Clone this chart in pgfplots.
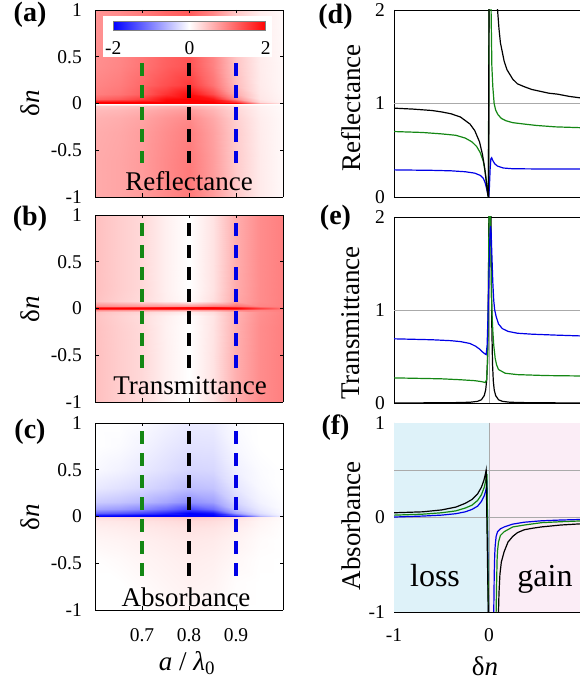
\documentclass[border=0pt]{standalone}
\usepackage{fontspec}
\setmainfont{Liberation Serif}
\usepackage{pgfplots}
\pgfplotsset{compat=1.18}
\definecolor{mygreen}{RGB}{20,135,20}
\definecolor{myblue}{RGB}{0,0,230}
\definecolor{losscol}{RGB}{222,242,249}
\definecolor{gaincol}{RGB}{251,237,246}
\definecolor{gridgray}{RGB}{170,170,170}
\pgfplotsset{colormap={bwr}{rgb255=(0,0,255) rgb255=(255,255,255) rgb255=(255,0,0)}}
\newcommand{\tk}{\fontsize{19.5}{20}\selectfont}
\newcommand{\lb}{\fontsize{27}{28}\selectfont}
\newcommand{\pl}{\fontsize{28}{29}\selectfont\bfseries}
\pgfplotsset{
 myax/.style={scale only axis, anchor=south west, tick align=inside, major tick length=3.5pt,
   tick style={black,line width=0.6pt}, axis line style={black,line width=0.8pt},
   /pgf/number format/assume math mode=true, tick label style={font=\tk}, no markers},
 heat/.style={myax, view={0}{90}, width=188pt, height=187pt, xmin=0.6,xmax=1,ymin=-1,ymax=1,
   xtick={0.7,0.8,0.9}, ytick={-1,-0.5,0,0.5,1}, yticklabel style={inner sep=0pt,xshift=-13pt},
   colormap name=bwr, point meta min=-2, point meta max=2},
 line/.style={myax, width=190pt, xmin=-1,xmax=1, xtick={-1,0,1}, yticklabel style={inner sep=0pt,xshift=-9pt}},
 dsh/.style={line width=3.3pt, dash pattern=on 12.7pt off 9.3pt},
 cur/.style={line width=1.2pt},
}
\begin{document}
\begin{tikzpicture}
\path[use as bounding box] (0,0) rectangle (579pt,687pt);
% (a) Reflectance
\begin{axis}[heat, at={(95pt,490pt)}, xticklabels={}]
\addplot3[surf, shader=interp, mesh/cols=9] table[row sep=\\]{
x y z\\
0.6 -1 0.66\\ 0.65 -1 0.70\\ 0.7 -1 0.78\\ 0.75 -1 0.92\\ 0.8 -1 1.05\\ 0.85 -1 0.78\\ 0.9 -1 0.42\\ 0.95 -1 0.16\\ 1 -1 0.05\\
0.6 -0.6 0.66\\ 0.65 -0.6 0.70\\ 0.7 -0.6 0.78\\ 0.75 -0.6 0.92\\ 0.8 -0.6 1.04\\ 0.85 -0.6 0.77\\ 0.9 -0.6 0.41\\ 0.95 -0.6 0.16\\ 1 -0.6 0.05\\
0.6 -0.3 0.64\\ 0.65 -0.3 0.68\\ 0.7 -0.3 0.76\\ 0.75 -0.3 0.89\\ 0.8 -0.3 1.0\\ 0.85 -0.3 0.74\\ 0.9 -0.3 0.40\\ 0.95 -0.3 0.15\\ 1 -0.3 0.05\\
0.6 -0.15 0.6\\ 0.65 -0.15 0.64\\ 0.7 -0.15 0.71\\ 0.75 -0.15 0.83\\ 0.8 -0.15 0.92\\ 0.85 -0.15 0.68\\ 0.9 -0.15 0.37\\ 0.95 -0.15 0.14\\ 1 -0.15 0.05\\
0.6 -0.07 0.53\\ 0.65 -0.07 0.56\\ 0.7 -0.07 0.62\\ 0.75 -0.07 0.72\\ 0.8 -0.07 0.78\\ 0.85 -0.07 0.58\\ 0.9 -0.07 0.32\\ 0.95 -0.07 0.12\\ 1 -0.07 0.04\\
0.6 -0.03 0.42\\ 0.65 -0.03 0.44\\ 0.7 -0.03 0.48\\ 0.75 -0.03 0.55\\ 0.8 -0.03 0.58\\ 0.85 -0.03 0.44\\ 0.9 -0.03 0.25\\ 0.95 -0.03 0.1\\ 1 -0.03 0.04\\
0.6 -0.012 0.2\\ 0.65 -0.012 0.21\\ 0.7 -0.012 0.22\\ 0.75 -0.012 0.25\\ 0.8 -0.012 0.26\\ 0.85 -0.012 0.2\\ 0.9 -0.012 0.12\\ 0.95 -0.012 0.06\\ 1 -0.012 0.03\\
0.6 -0.004 0\\ 0.65 -0.004 0\\ 0.7 -0.004 0\\ 0.75 -0.004 0\\ 0.8 -0.004 0\\ 0.85 -0.004 0\\ 0.9 -0.004 0\\ 0.95 -0.004 0\\ 1 -0.004 0\\
0.6 0.003 2\\ 0.65 0.003 2\\ 0.7 0.003 2\\ 0.75 0.003 2\\ 0.8 0.003 2\\ 0.85 0.003 2\\ 0.9 0.003 2\\ 0.95 0.003 0.6\\ 1 0.003 0.2\\
0.6 0.02 2\\ 0.65 0.02 2\\ 0.7 0.02 2\\ 0.75 0.02 2\\ 0.8 0.02 2\\ 0.85 0.02 2\\ 0.9 0.02 1.6\\ 0.95 0.02 0.3\\ 1 0.02 0.1\\
0.6 0.05 1.2\\ 0.65 0.05 1.3\\ 0.7 0.05 1.5\\ 0.75 0.05 1.9\\ 0.8 0.05 2\\ 0.85 0.05 1.85\\ 0.9 0.05 0.9\\ 0.95 0.05 0.2\\ 1 0.05 0.08\\
0.6 0.1 1.0\\ 0.65 0.1 1.08\\ 0.7 0.1 1.25\\ 0.75 0.1 1.6\\ 0.8 0.1 1.9\\ 0.85 0.1 1.4\\ 0.9 0.1 0.65\\ 0.95 0.1 0.18\\ 1 0.1 0.07\\
0.6 0.2 0.95\\ 0.65 0.2 1.02\\ 0.7 0.2 1.18\\ 0.75 0.2 1.38\\ 0.8 0.2 1.55\\ 0.85 0.2 1.1\\ 0.9 0.2 0.52\\ 0.95 0.2 0.16\\ 1 0.2 0.06\\
0.6 0.4 0.88\\ 0.65 0.4 0.95\\ 0.7 0.4 1.08\\ 0.75 0.4 1.25\\ 0.8 0.4 1.35\\ 0.85 0.4 0.98\\ 0.9 0.4 0.46\\ 0.95 0.4 0.15\\ 1 0.4 0.06\\
0.6 0.7 0.85\\ 0.65 0.7 0.92\\ 0.7 0.7 1.04\\ 0.75 0.7 1.2\\ 0.8 0.7 1.3\\ 0.85 0.7 0.95\\ 0.9 0.7 0.44\\ 0.95 0.7 0.14\\ 1 0.7 0.05\\
0.6 1 0.84\\ 0.65 1 0.9\\ 0.7 1 1.02\\ 0.75 1 1.18\\ 0.8 1 1.28\\ 0.85 1 0.93\\ 0.9 1 0.43\\ 0.95 1 0.14\\ 1 1 0.05\\
};
\addplot3[mygreen,dsh] coordinates {(0.7,0.43,0) (0.7,-0.64,0)};
\addplot3[black,dsh] coordinates {(0.8,0.43,0) (0.8,-0.64,0)};
\addplot3[myblue,dsh] coordinates {(0.9,0.43,0) (0.9,-0.64,0)};
\end{axis}
\fill[white] (103.3pt,630.3pt) rectangle (271.7pt,671pt);
\begin{axis}[myax, view={0}{90}, at={(113.3pt,656.3pt)}, width=152.4pt, height=9pt,
  xmin=-2,xmax=2,ymin=0,ymax=1, xtick={-2,0,2}, ytick=\empty, major tick length=0pt,
  axis line style={gray,line width=0.5pt}, xticklabel style={inner sep=0pt,yshift=-11pt},
  colormap name=bwr, point meta min=-2, point meta max=2]
\addplot3[surf, shader=interp, mesh/cols=3] coordinates {(-2,0,-2) (0,0,0) (2,0,2) (-2,1,-2) (0,1,0) (2,1,2)};
\end{axis}
% (b) Transmittance
\begin{axis}[heat, at={(95pt,285pt)}, xticklabels={}]
\addplot3[surf, shader=interp, mesh/cols=9] table[row sep=\\]{
x y z\\
0.6 -1 0.5\\ 0.65 -1 0.39\\ 0.7 -1 0.3\\ 0.75 -1 0.12\\ 0.8 -1 0\\ 0.85 -1 0.22\\ 0.9 -1 0.63\\ 0.95 -1 0.9\\ 1 -1 1\\
0.6 -0.5 0.5\\ 0.65 -0.5 0.39\\ 0.7 -0.5 0.3\\ 0.75 -0.5 0.12\\ 0.8 -0.5 0\\ 0.85 -0.5 0.22\\ 0.9 -0.5 0.63\\ 0.95 -0.5 0.9\\ 1 -0.5 1\\
0.6 -0.2 0.49\\ 0.65 -0.2 0.38\\ 0.7 -0.2 0.29\\ 0.75 -0.2 0.11\\ 0.8 -0.2 0\\ 0.85 -0.2 0.21\\ 0.9 -0.2 0.62\\ 0.95 -0.2 0.9\\ 1 -0.2 1\\
0.6 -0.08 0.47\\ 0.65 -0.08 0.36\\ 0.7 -0.08 0.27\\ 0.75 -0.08 0.12\\ 0.8 -0.08 0.01\\ 0.85 -0.08 0.2\\ 0.9 -0.08 0.6\\ 0.95 -0.08 0.88\\ 1 -0.08 0.99\\
0.6 -0.035 0.5\\ 0.65 -0.035 0.4\\ 0.7 -0.035 0.33\\ 0.75 -0.035 0.22\\ 0.8 -0.035 0.12\\ 0.85 -0.035 0.27\\ 0.9 -0.035 0.6\\ 0.95 -0.035 0.87\\ 1 -0.035 0.98\\
0.6 -0.015 0.9\\ 0.65 -0.015 0.85\\ 0.7 -0.015 0.8\\ 0.75 -0.015 0.75\\ 0.8 -0.015 0.7\\ 0.85 -0.015 0.75\\ 0.9 -0.015 0.95\\ 0.95 -0.015 0.95\\ 1 -0.015 1\\
0.6 -0.005 1.7\\ 0.65 -0.005 1.7\\ 0.7 -0.005 1.7\\ 0.75 -0.005 1.7\\ 0.8 -0.005 1.7\\ 0.85 -0.005 1.7\\ 0.9 -0.005 1.7\\ 0.95 -0.005 1.3\\ 1 -0.005 1.05\\
0.6 0.005 2\\ 0.65 0.005 2\\ 0.7 0.005 2\\ 0.75 0.005 2\\ 0.8 0.005 2\\ 0.85 0.005 2\\ 0.9 0.005 2\\ 0.95 0.005 1.5\\ 1 0.005 1.1\\
0.6 0.015 1.6\\ 0.65 0.015 1.6\\ 0.7 0.015 1.7\\ 0.75 0.015 1.8\\ 0.8 0.015 1.9\\ 0.85 0.015 1.9\\ 0.9 0.015 1.7\\ 0.95 0.015 1.2\\ 1 0.015 1.02\\
0.6 0.03 0.9\\ 0.65 0.03 0.85\\ 0.7 0.03 0.8\\ 0.75 0.03 0.8\\ 0.8 0.03 0.8\\ 0.85 0.03 1\\ 0.9 0.03 1.1\\ 0.95 0.03 0.95\\ 1 0.03 1\\
0.6 0.08 0.48\\ 0.65 0.08 0.37\\ 0.7 0.08 0.28\\ 0.75 0.08 0.13\\ 0.8 0.08 0.02\\ 0.85 0.08 0.25\\ 0.9 0.08 0.68\\ 0.95 0.08 0.9\\ 1 0.08 1\\
0.6 0.2 0.5\\ 0.65 0.2 0.39\\ 0.7 0.2 0.3\\ 0.75 0.2 0.12\\ 0.8 0.2 0\\ 0.85 0.2 0.22\\ 0.9 0.2 0.65\\ 0.95 0.2 0.9\\ 1 0.2 1\\
0.6 0.5 0.5\\ 0.65 0.5 0.39\\ 0.7 0.5 0.3\\ 0.75 0.5 0.12\\ 0.8 0.5 0\\ 0.85 0.5 0.22\\ 0.9 0.5 0.64\\ 0.95 0.5 0.9\\ 1 0.5 1\\
0.6 1 0.5\\ 0.65 1 0.39\\ 0.7 1 0.3\\ 0.75 1 0.12\\ 0.8 1 0\\ 0.85 1 0.22\\ 0.9 1 0.64\\ 0.95 1 0.9\\ 1 1 1\\
};
\addplot3[mygreen,dsh] coordinates {(0.7,0.91,0) (0.7,-0.64,0)};
\addplot3[black,dsh] coordinates {(0.8,0.91,0) (0.8,-0.64,0)};
\addplot3[myblue,dsh] coordinates {(0.9,0.91,0) (0.9,-0.64,0)};
\end{axis}
% (c) Absorbance
\begin{axis}[heat, at={(95pt,77pt)}, xticklabel style={inner sep=0pt,yshift=-18pt}]
\addplot3[surf, shader=interp, mesh/cols=9] table[row sep=\\]{
x y z\\
0.6 -1 0\\ 0.65 -1 0\\ 0.7 -1 0\\ 0.75 -1 0.04\\ 0.8 -1 0.08\\ 0.85 -1 0.05\\ 0.9 -1 0\\ 0.95 -1 0\\ 1 -1 0\\
0.6 -0.7 0\\ 0.65 -0.7 0\\ 0.7 -0.7 0.04\\ 0.75 -0.7 0.08\\ 0.8 -0.7 0.11\\ 0.85 -0.7 0.09\\ 0.9 -0.7 0.02\\ 0.95 -0.7 0\\ 1 -0.7 0\\
0.6 -0.45 0.01\\ 0.65 -0.45 0.04\\ 0.7 -0.45 0.08\\ 0.75 -0.45 0.11\\ 0.8 -0.45 0.14\\ 0.85 -0.45 0.12\\ 0.9 -0.45 0.06\\ 0.95 -0.45 0.01\\ 1 -0.45 0\\
0.6 -0.25 0.07\\ 0.65 -0.25 0.09\\ 0.7 -0.25 0.12\\ 0.75 -0.25 0.15\\ 0.8 -0.25 0.18\\ 0.85 -0.25 0.16\\ 0.9 -0.25 0.1\\ 0.95 -0.25 0.03\\ 1 -0.25 0\\
0.6 -0.12 0.12\\ 0.65 -0.12 0.14\\ 0.7 -0.12 0.17\\ 0.75 -0.12 0.2\\ 0.8 -0.12 0.23\\ 0.85 -0.12 0.21\\ 0.9 -0.12 0.14\\ 0.95 -0.12 0.06\\ 1 -0.12 0.01\\
0.6 -0.05 0.17\\ 0.65 -0.05 0.19\\ 0.7 -0.05 0.22\\ 0.75 -0.05 0.26\\ 0.8 -0.05 0.3\\ 0.85 -0.05 0.27\\ 0.9 -0.05 0.19\\ 0.95 -0.05 0.08\\ 1 -0.05 0.02\\
0.6 -0.015 0.25\\ 0.65 -0.015 0.28\\ 0.7 -0.015 0.31\\ 0.75 -0.015 0.35\\ 0.8 -0.015 0.4\\ 0.85 -0.015 0.35\\ 0.9 -0.015 0.25\\ 0.95 -0.015 0.11\\ 1 -0.015 0.03\\
0.6 -0.003 0.33\\ 0.65 -0.003 0.35\\ 0.7 -0.003 0.38\\ 0.75 -0.003 0.43\\ 0.8 -0.003 0.48\\ 0.85 -0.003 0.43\\ 0.9 -0.003 0.3\\ 0.95 -0.003 0.13\\ 1 -0.003 0.04\\
0.6 0.004 -2\\ 0.65 0.004 -2\\ 0.7 0.004 -2\\ 0.75 0.004 -2\\ 0.8 0.004 -2\\ 0.85 0.004 -2\\ 0.9 0.004 -1.8\\ 0.95 0.004 -0.6\\ 1 0.004 -0.1\\
0.6 0.015 -1.8\\ 0.65 0.015 -1.85\\ 0.7 0.015 -1.95\\ 0.75 0.015 -2\\ 0.8 0.015 -2\\ 0.85 0.015 -2\\ 0.9 0.015 -1.3\\ 0.95 0.015 -0.4\\ 1 0.015 -0.07\\
0.6 0.04 -1.2\\ 0.65 0.04 -1.3\\ 0.7 0.04 -1.45\\ 0.75 0.04 -1.7\\ 0.8 0.04 -2\\ 0.85 0.04 -1.85\\ 0.9 0.04 -0.75\\ 0.95 0.04 -0.25\\ 1 0.04 -0.04\\
0.6 0.08 -0.7\\ 0.65 0.08 -0.78\\ 0.7 0.08 -0.92\\ 0.75 0.08 -1.15\\ 0.8 0.08 -1.45\\ 0.85 0.08 -1.15\\ 0.9 0.08 -0.48\\ 0.95 0.08 -0.17\\ 1 0.08 -0.03\\
0.6 0.15 -0.4\\ 0.65 0.15 -0.46\\ 0.7 0.15 -0.55\\ 0.75 0.15 -0.7\\ 0.8 0.15 -0.88\\ 0.85 0.15 -0.75\\ 0.9 0.15 -0.33\\ 0.95 0.15 -0.1\\ 1 0.15 -0.02\\
0.6 0.3 -0.17\\ 0.65 0.3 -0.23\\ 0.7 0.3 -0.3\\ 0.75 0.3 -0.4\\ 0.8 0.3 -0.52\\ 0.85 0.3 -0.47\\ 0.9 0.3 -0.2\\ 0.95 0.3 -0.05\\ 1 0.3 0\\
0.6 0.5 -0.05\\ 0.65 0.5 -0.1\\ 0.7 0.5 -0.17\\ 0.75 0.5 -0.25\\ 0.8 0.5 -0.33\\ 0.85 0.5 -0.31\\ 0.9 0.5 -0.12\\ 0.95 0.5 -0.03\\ 1 0.5 0\\
0.6 0.75 0\\ 0.65 0.75 -0.03\\ 0.7 0.75 -0.09\\ 0.75 0.75 -0.17\\ 0.8 0.75 -0.23\\ 0.85 0.75 -0.22\\ 0.9 0.75 -0.06\\ 0.95 0.75 0\\ 1 0.75 0\\
0.6 1 0\\ 0.65 1 0\\ 0.7 1 -0.03\\ 0.75 1 -0.1\\ 0.8 1 -0.16\\ 0.85 1 -0.15\\ 0.9 1 -0.03\\ 0.95 1 0\\ 1 1 0\\
};
\addplot3[mygreen,dsh] coordinates {(0.7,0.91,0) (0.7,-0.64,0)};
\addplot3[black,dsh] coordinates {(0.8,0.91,0) (0.8,-0.64,0)};
\addplot3[myblue,dsh] coordinates {(0.9,0.91,0) (0.9,-0.64,0)};
\end{axis}
% (d) Reflectance lines
\begin{axis}[line, at={(394pt,490pt)}, height=187pt, ymin=0, ymax=2, ytick={0,1,2}, xticklabels={}]
\draw[gridgray,line width=0.8pt] (axis cs:-1,1) -- (axis cs:1,1);
\draw[gridgray,line width=0.8pt] (axis cs:0,0) -- (axis cs:0,2);
\addplot[myblue,cur] coordinates {(-1,0.29) (-0.6,0.285) (-0.4,0.28) (-0.25,0.27) (-0.15,0.255) (-0.09,0.23) (-0.06,0.2) (-0.04,0.15) (-0.025,0.09) (-0.015,0.04) (-0.008,0.01) (-0.003,0) (0.004,0.1) (0.012,0.3) (0.02,0.41) (0.028,0.42) (0.04,0.39) (0.06,0.355) (0.09,0.33) (0.15,0.31) (0.25,0.302) (0.5,0.3) (1,0.3)};
\addplot[mygreen,cur] coordinates {(-1,0.7) (-0.7,0.69) (-0.5,0.675) (-0.35,0.66) (-0.25,0.63) (-0.18,0.59) (-0.13,0.54) (-0.09,0.47) (-0.06,0.38) (-0.04,0.27) (-0.025,0.15) (-0.014,0.05) (-0.007,0) (-0.002,1.5) (0.001,2.6) (0.012,3) (0.018,2.3) (0.022,2.0) (0.03,1.4) (0.04,1.18) (0.054,1.0) (0.07,0.93) (0.095,0.88) (0.13,0.84) (0.18,0.815) (0.25,0.795) (0.37,0.78) (0.5,0.765) (0.7,0.75) (1,0.74)};
\addplot[black,cur] coordinates {(-1,0.95) (-0.8,0.94) (-0.6,0.925) (-0.5,0.91) (-0.4,0.89) (-0.3,0.855) (-0.2,0.78) (-0.15,0.71) (-0.1,0.59) (-0.07,0.46) (-0.05,0.34) (-0.035,0.22) (-0.022,0.1) (-0.012,0.02) (-0.006,0) (-0.002,1.2) (0,2.5) (0.03,3) (0.07,2.5) (0.09,2.0) (0.105,1.8) (0.12,1.65) (0.16,1.45) (0.19,1.36) (0.25,1.26) (0.3,1.21) (0.37,1.18) (0.45,1.15) (0.54,1.13) (0.63,1.11) (0.72,1.1) (0.85,1.075) (1,1.055)};
\end{axis}
% (e) Transmittance lines
\begin{axis}[line, at={(394pt,284pt)}, height=186pt, ymin=0, ymax=2, ytick={0,1,2}, xticklabels={}]
\draw[gridgray,line width=0.8pt] (axis cs:-1,1) -- (axis cs:1,1);
\draw[gridgray,line width=0.8pt] (axis cs:0,0) -- (axis cs:0,2);
\addplot[black,cur] coordinates {(-1,0) (-0.4,0.003) (-0.2,0.008) (-0.12,0.018) (-0.08,0.035) (-0.05,0.08) (-0.035,0.14) (-0.025,0.24) (-0.017,0.42) (-0.01,0.8) (-0.005,1.4) (0,2.2) (0.005,2.8) (0.01,3) (0.015,2.8) (0.02,2.2) (0.025,1.4) (0.03,0.8) (0.037,0.42) (0.045,0.24) (0.055,0.14) (0.07,0.08) (0.1,0.035) (0.14,0.018) (0.22,0.008) (0.42,0.003) (1,0)};
\addplot[mygreen,cur] coordinates {(-1,0.27) (-0.5,0.26) (-0.3,0.25) (-0.15,0.24) (-0.08,0.23) (-0.04,0.22) (-0.025,0.25) (-0.015,0.45) (-0.008,0.9) (-0.003,1.6) (0.002,2.3) (0.012,2.6) (0.018,1.8) (0.024,1.3) (0.03,1.0) (0.04,0.78) (0.05,0.62) (0.065,0.48) (0.08,0.41) (0.1,0.36) (0.17,0.32) (0.3,0.305) (0.6,0.295) (1,0.29)};
\addplot[myblue,cur] coordinates {(-1,0.69) (-0.6,0.68) (-0.4,0.67) (-0.3,0.66) (-0.2,0.64) (-0.14,0.61) (-0.1,0.58) (-0.07,0.55) (-0.045,0.53) (-0.03,0.52) (-0.02,0.62) (-0.01,0.95) (0,1.4) (0.008,1.75) (0.015,1.9) (0.022,1.85) (0.03,1.6) (0.04,1.3) (0.05,1.1) (0.06,1.0) (0.075,0.93) (0.1,0.85) (0.14,0.8) (0.2,0.77) (0.3,0.75) (0.45,0.74) (0.7,0.73) (1,0.72)};
\end{axis}
% (f) Absorbance lines
\begin{axis}[line, at={(394pt,75pt)}, height=189pt, ymin=-1, ymax=1, ytick={-1,0,1}, xticklabel style={inner sep=0pt,yshift=-16pt}]
\fill[losscol] (axis cs:-1,-1) rectangle (axis cs:0,1);
\fill[gaincol] (axis cs:0,-1) rectangle (axis cs:1,1);
\draw[gridgray,line width=0.8pt] (axis cs:-1,0.5) -- (axis cs:1,0.5);
\draw[gridgray,line width=0.8pt] (axis cs:-1,0) -- (axis cs:1,0);
\draw[gridgray,line width=0.8pt] (axis cs:0,-1) -- (axis cs:0,1);
\addplot[myblue,cur] coordinates {(-1,0.005) (-0.7,0.015) (-0.5,0.025) (-0.35,0.04) (-0.25,0.06) (-0.18,0.085) (-0.12,0.12) (-0.08,0.17) (-0.05,0.23) (-0.035,0.28) (-0.02,0.35) (-0.002,-1.2) (0.045,-1.6) (0.05,-1.0) (0.055,-0.6) (0.06,-0.4) (0.065,-0.3) (0.075,-0.2) (0.09,-0.15) (0.12,-0.12) (0.16,-0.1) (0.25,-0.07) (0.37,-0.05) (0.55,-0.035) (0.75,-0.027) (1,-0.02)};
\addplot[mygreen,cur] coordinates {(-1,0.025) (-0.7,0.035) (-0.5,0.05) (-0.35,0.07) (-0.25,0.1) (-0.18,0.13) (-0.12,0.18) (-0.08,0.24) (-0.05,0.32) (-0.035,0.39) (-0.022,0.46) (-0.003,-1.2) (0.07,-1.6) (0.075,-1.0) (0.08,-0.7) (0.085,-0.45) (0.09,-0.35) (0.1,-0.26) (0.12,-0.19) (0.16,-0.15) (0.25,-0.1) (0.37,-0.08) (0.55,-0.055) (0.75,-0.045) (1,-0.035)};
\addplot[black,cur] coordinates {(-1,0.05) (-0.7,0.06) (-0.5,0.08) (-0.35,0.11) (-0.25,0.15) (-0.18,0.19) (-0.12,0.25) (-0.08,0.32) (-0.055,0.39) (-0.04,0.45) (-0.03,0.5) (-0.005,-1.2) (0.095,-1.6) (0.1,-1.0) (0.105,-0.8) (0.115,-0.6) (0.13,-0.47) (0.16,-0.36) (0.2,-0.26) (0.25,-0.2) (0.3,-0.16) (0.37,-0.13) (0.45,-0.115) (0.55,-0.1) (0.75,-0.08) (1,-0.065)};
\end{axis}
% texts
\node[font=\pl] at (30pt,672pt) {(a)};
\node[font=\pl] at (30pt,468.5pt) {(b)};
\node[font=\pl] at (30pt,255pt) {(c)};
\node[font=\pl] at (335.5pt,670pt) {(d)};
\node[font=\pl] at (335.5pt,469pt) {(e)};
\node[font=\pl] at (335.5pt,259.5pt) {(f)};
\node[font=\lb,rotate=90] at (30pt,584pt) {δ\textit{n}};
\node[font=\lb,rotate=90] at (30pt,377.5pt) {δ\textit{n}};
\node[font=\lb,rotate=90] at (30pt,170pt) {δ\textit{n}};
\node[font=\lb,rotate=90] at (351pt,579pt) {Reflectance};
\node[font=\lb,rotate=90] at (351pt,364pt) {Transmittance};
\node[font=\lb,rotate=90] at (351pt,161pt) {Absorbance};
\node[font=\lb] at (189pt,506pt) {Reflectance};
\node[font=\lb] at (190pt,301pt) {Transmittance};
\node[font=\lb] at (186pt,90pt) {Absorbance};
\node[font=\fontsize{32}{33}\selectfont,anchor=base] at (435pt,100.3pt) {loss};
\node[font=\fontsize{32}{33}\selectfont,anchor=base] at (545pt,100pt) {gain};
\node[font=\lb] at (187pt,24pt) {\textit{a} / \textit{λ}\textsubscript{0}};
\node[font=\lb] at (485pt,21pt) {δ\textit{n}};
\end{tikzpicture}
\end{document}
